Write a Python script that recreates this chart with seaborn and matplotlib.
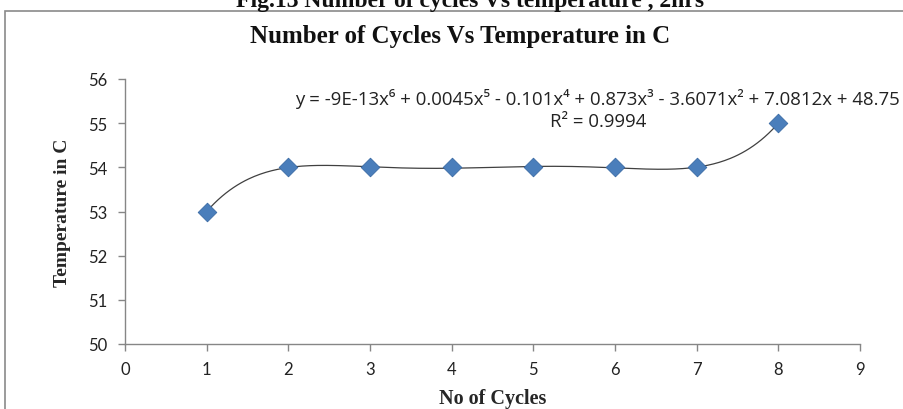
import numpy as np
import pandas as pd
import matplotlib
matplotlib.use("Agg")
import matplotlib.pyplot as plt
import seaborn as sns
from matplotlib.patches import Rectangle

cycles = [1, 2, 3, 4, 5, 6, 7, 8]
temperature = [53, 54, 54, 54, 54, 54, 54, 55]
x_ticks = [0, 1, 2, 3, 4, 5, 6, 7, 8, 9]
y_ticks = [50, 51, 52, 53, 54, 55, 56]
equation = "y = -9E-13x\u2076 + 0.0045x\u2075 - 0.101x\u2074 + 0.873x\u00b3 - 3.6071x\u00b2 + 7.0812x + 48.75"
r2_text = "R\u00b2 = 0.9994"

sns.set_theme(style="white")
plt.rcParams['font.family'] = ['Lato', 'DejaVu Sans']

df = pd.DataFrame({"cycles": cycles, "temperature": temperature})

fig = plt.figure(figsize=(9.04, 4.10), dpi=100)
ax = fig.add_axes([125/904, 1-345/410, (860-125)/904, (345-80)/410])

# polynomial trendline (order 6) computed from data
coef = np.polyfit(cycles, temperature, 6)
xs = np.linspace(1, 8, 300)
ys = np.polyval(coef, xs)
sns.lineplot(x=xs, y=ys, ax=ax, color="#404040", linewidth=0.9, zorder=2)

sns.scatterplot(data=df, x="cycles", y="temperature", ax=ax, marker="D", s=90,
                color="#4A7EBB", edgecolor="#3A6AA5", linewidth=0.6, zorder=3)

ax.set_xlim(0, 9)
ax.set_ylim(50, 56)
ax.set_xticks(x_ticks)
ax.set_yticks(y_ticks)
ax.tick_params(axis='both', labelsize=12, colors="#868686", labelcolor="#222222",
               direction='out', length=5, width=1, bottom=True, left=True)
ax.tick_params(axis='x', pad=7)
ax.tick_params(axis='y', pad=8)
for s in ['top', 'right']:
    ax.spines[s].set_visible(False)
for s in ['left', 'bottom']:
    ax.spines[s].set_color("#868686")
    ax.spines[s].set_linewidth(1)

ax.set_xlabel("No of Cycles", family=['Liberation Serif'], fontweight='bold', fontsize=14.5, labelpad=8)
ax.set_ylabel("Temperature in C", family=['Liberation Serif'], fontweight='bold', fontsize=14, labelpad=12)

ax.text(9.49, 55.57, equation, ha='right', va='center', fontsize=13.4, color="#222222",
        family=['Open Sans', 'DejaVu Sans'], clip_on=False)
ax.text(5.8, 55.05, r2_text, ha='center', va='center', fontsize=13.4, color="#222222",
        family=['Open Sans', 'DejaVu Sans'])

fig.text(460/904, 1-36/410, "Number of Cycles Vs Temperature in C", ha='center', va='center',
         family=['Liberation Serif'], fontweight='bold', fontsize=18, color="#111111")
fig.text(470/904, 1-1/410, "Fig.13 Number of cycles Vs temperature , 2hrs", ha='center', va='center',
         family=['Liberation Serif'], fontweight='bold', fontsize=17, color="#111111")

fig.patches.append(Rectangle((5/904, -0.2), 2.0, 1.2 - 12/410, transform=fig.transFigure,
                             fill=False, edgecolor="#8a8a8a", linewidth=1.2, figure=fig))

fig.savefig("out.png", dpi=100)
